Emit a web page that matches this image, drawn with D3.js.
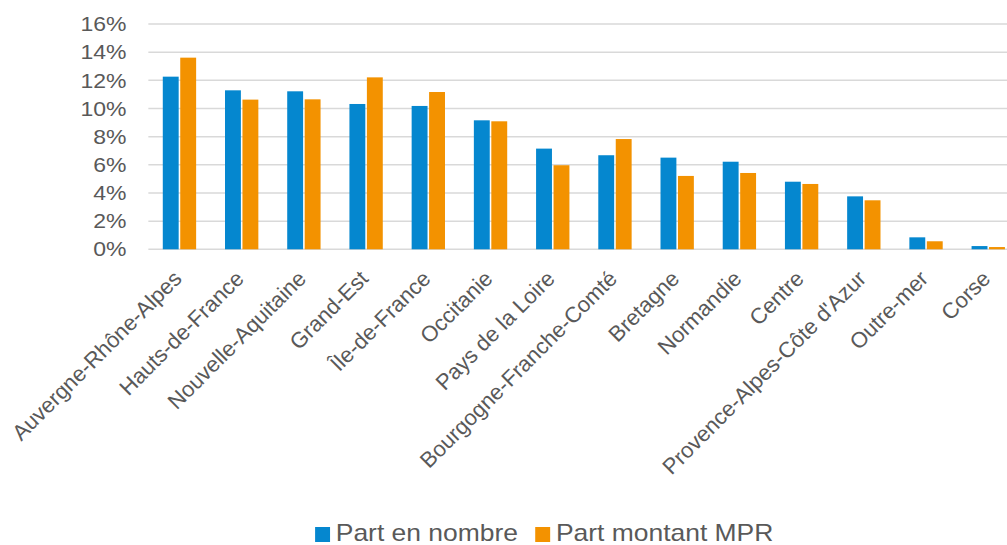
<!DOCTYPE html>
<html>
<head>
<meta charset="utf-8">
<script src="https://cdn.jsdelivr.net/npm/d3@7"></script>
<style>
  body { margin: 0; background: #fff; }
  svg { display: block; font-family: "Liberation Sans", Arial, sans-serif; }
</style>
</head>
<body>
<svg id="chart" width="1007" height="545"></svg>
<script>
// Regions, sorted as in the source chart
const regions = [
  "Auvergne-Rhône-Alpes", "Hauts-de-France", "Nouvelle-Aquitaine", "Grand-Est",
  "Île-de-France", "Occitanie", "Pays de la Loire", "Bourgogne-Franche-Comté",
  "Bretagne", "Normandie", "Centre", "Provence-Alpes-Côte d'Azur", "Outre-mer", "Corse"
];
const seriesNames = ["Part en nombre", "Part montant MPR"];
const partNombre = [0.1226, 0.1129, 0.1122, 0.1032, 0.1018, 0.0916, 0.0715, 0.0668, 0.0651, 0.0622, 0.0480, 0.0376, 0.0085, 0.0023];
const partMontant = [0.1361, 0.1063, 0.1065, 0.1221, 0.1117, 0.0909, 0.0597, 0.0783, 0.0521, 0.0542, 0.0464, 0.0348, 0.0057, 0.0016];
const yTicks = [0, 0.02, 0.04, 0.06, 0.08, 0.10, 0.12, 0.14, 0.16];
const colors = ["#0587cf", "#f39200"];

// the source picture is stretched horizontally, so draw in a squeezed frame
const stretch = 1.15;
const margin = { left: 129, right: 886.4, top: 24, bottom: 249.3 };

const svg = d3.select("#chart");
const g = svg.append("g").attr("transform", `scale(${stretch},1)`);

const x0 = d3.scaleBand()
  .domain(regions)
  .range([margin.left, margin.right])
  .paddingInner(0.464)
  .paddingOuter(0.232);

const x1 = d3.scaleBand()
  .domain(seriesNames)
  .range([0, x0.bandwidth()])
  .paddingInner(0.09);

const y = d3.scaleLinear()
  .domain([0, 0.16])
  .range([margin.bottom, margin.top]);

// gridlines
g.append("g")
  .selectAll("line")
  .data(yTicks)
  .join("line")
  .attr("x1", margin.left)
  .attr("x2", margin.right)
  .attr("y1", d => y(d))
  .attr("y2", d => y(d))
  .attr("stroke", "#d9d9d9")
  .attr("stroke-width", 1.5);

// y labels
g.append("g")
  .selectAll("text")
  .data(yTicks)
  .join("text")
  .attr("x", margin.left - 19)
  .attr("y", d => y(d))
  .attr("dy", "0.36em")
  .attr("text-anchor", "end")
  .style("font-size", "20px")
  .style("fill", "#595959")
  .text(d => d3.format(".0%")(d));

// bars
const rows = regions.map((r, i) => ({ region: r, values: [partNombre[i], partMontant[i]] }));

g.append("g")
  .selectAll("g")
  .data(rows)
  .join("g")
  .attr("transform", d => `translate(${x0(d.region)},0)`)
  .selectAll("rect")
  .data(d => d.values.map((v, j) => ({ key: seriesNames[j], value: v, idx: j })))
  .join("rect")
  .attr("x", d => x1(d.key))
  .attr("width", x1.bandwidth())
  .attr("y", d => y(d.value))
  .attr("height", d => y(0) - y(d.value))
  .attr("fill", d => colors[d.idx]);

// category labels, rotated 45° on screen (outside the squeezed frame)
svg.append("g")
  .selectAll("text")
  .data(regions)
  .join("text")
  .attr("transform", d => `translate(${stretch * (x0(d) + x0.bandwidth() / 2) + 3.5},280) rotate(-45)`)
  .attr("text-anchor", "end")
  .style("font-size", "22px")
  .style("fill", "#595959")
  .text(d => d);

// legend (inside the squeezed frame, like the source)
const legend = g.append("g").attr("transform", "translate(274,0)");
let lx = 0;
seriesNames.forEach((name, i) => {
  legend.append("rect")
    .attr("x", lx)
    .attr("y", 527)
    .attr("width", 13)
    .attr("height", 15)
    .attr("fill", colors[i]);
  const t = legend.append("text")
    .attr("x", lx + 18)
    .attr("y", 541)
    .style("font-size", "23px")
    .style("fill", "#595959")
    .text(name);
  lx += 18 + t.node().getComputedTextLength() + 15;
});
</script>
</body>
</html>
